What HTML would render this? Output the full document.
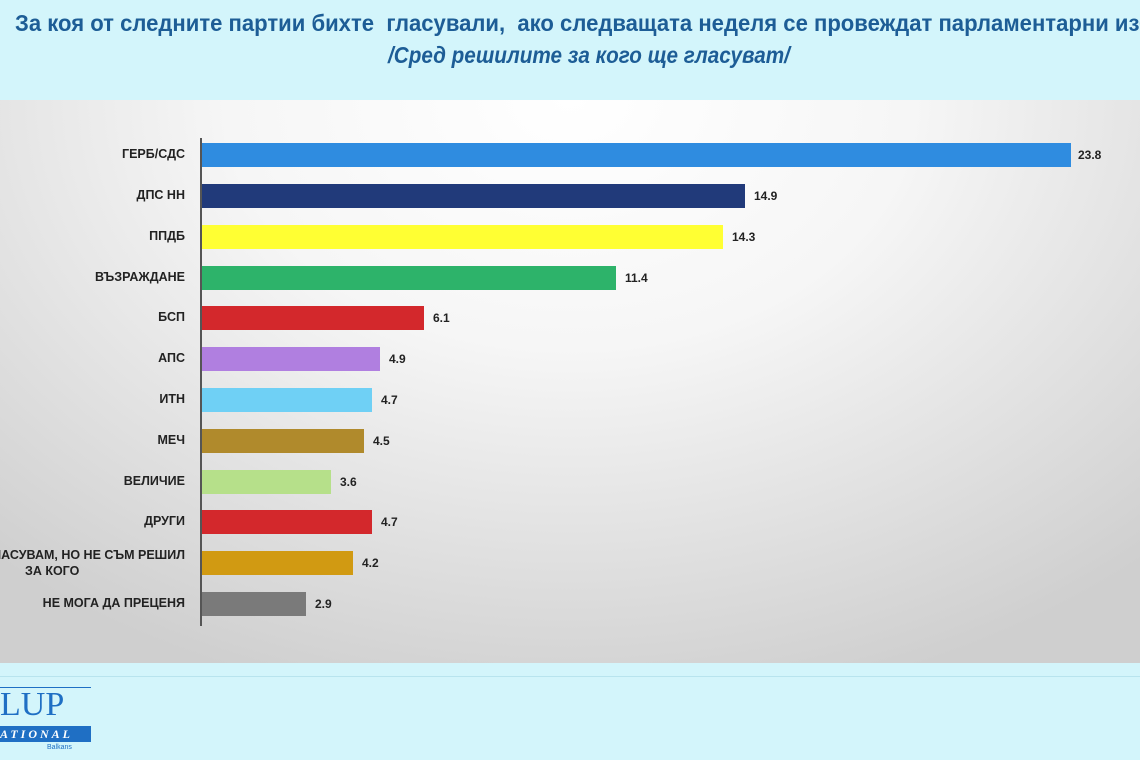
<!DOCTYPE html>
<html><head><meta charset="utf-8"><style>
body{margin:0;width:1140px;height:760px;overflow:hidden;background:#d3f5fb;position:relative;font-family:"Liberation Sans",sans-serif}
.t{position:absolute;color:#1d5d96;font-weight:bold;white-space:nowrap;transform-origin:0 0}
#chart{position:absolute;left:0;top:100px;width:1140px;height:563px;background:radial-gradient(ellipse 75% 110% at 50% 0%,#ffffff 0%,#f6f6f6 40%,#dcdcdc 80%,#cfcfcf 100%)}
.ax{position:absolute;left:200px;top:138px;width:2px;height:488px;background:#555}
.b{position:absolute;left:202px;height:24px}
.l{position:absolute;right:955px;font-size:12.5px;font-weight:bold;color:#222;text-align:right;white-space:nowrap;line-height:15px}
.v{position:absolute;font-size:12px;font-weight:bold;color:#222}
</style></head><body>
<div class="t" style="left:15px;top:10px;font-size:23px;transform:scaleX(0.96)">За коя от следните партии бихте &nbsp;гласували, &nbsp;ако следващата неделя се провеждат парламентарни избори</div>
<div class="t" style="left:388px;top:42px;font-size:23px;font-style:italic;transform:scaleX(0.9)">/Сред решилите за кого ще гласуват/</div>
<div id="chart"></div>
<div class="ax"></div>
<div style="position:absolute;left:0;top:676px;width:1140px;height:1px;background:#b8e4ee"></div>
<div style="position:absolute;left:0;top:688px;font-family:'Liberation Serif',serif;font-size:34px;color:#1f6fc4;line-height:34px">LUP</div>
<div style="position:absolute;left:0;top:726px;width:91px;height:16px;background:#1f6fc4;color:#fff;font-family:'Liberation Serif',serif;font-style:italic;font-weight:bold;font-size:12px;letter-spacing:3px;line-height:16px">ATIONAL</div>
<div style="position:absolute;left:0;top:687px;width:91px;height:1px;background:#1f6fc4"></div>
<div style="position:absolute;left:47px;top:744px;font-size:7px;color:#1f6fc4">Balkans</div>

<div class="b" style="top:143px;width:869px;background:#2f8ce0"></div><div class="l" style="top:147px">ГЕРБ/СДС</div><div class="v" style="left:1078px;top:148px">23.8</div>
<div class="b" style="top:184px;width:543px;background:#213a7a"></div><div class="l" style="top:188px">ДПС НН</div><div class="v" style="left:754px;top:189px">14.9</div>
<div class="b" style="top:225px;width:521px;background:#ffff33"></div><div class="l" style="top:229px">ППДБ</div><div class="v" style="left:732px;top:230px">14.3</div>
<div class="b" style="top:266px;width:414px;background:#2db36a"></div><div class="l" style="top:270px">ВЪЗРАЖДАНЕ</div><div class="v" style="left:625px;top:271px">11.4</div>
<div class="b" style="top:306px;width:222px;background:#d3282c"></div><div class="l" style="top:310px">БСП</div><div class="v" style="left:433px;top:311px">6.1</div>
<div class="b" style="top:347px;width:178px;background:#b07fe0"></div><div class="l" style="top:351px">АПС</div><div class="v" style="left:389px;top:352px">4.9</div>
<div class="b" style="top:388px;width:170px;background:#6fd0f5"></div><div class="l" style="top:392px">ИТН</div><div class="v" style="left:381px;top:393px">4.7</div>
<div class="b" style="top:429px;width:162px;background:#b08a2c"></div><div class="l" style="top:433px">МЕЧ</div><div class="v" style="left:373px;top:434px">4.5</div>
<div class="b" style="top:470px;width:129px;background:#b6e08a"></div><div class="l" style="top:474px">ВЕЛИЧИЕ</div><div class="v" style="left:340px;top:475px">3.6</div>
<div class="b" style="top:510px;width:170px;background:#d3282c"></div><div class="l" style="top:514px">ДРУГИ</div><div class="v" style="left:381px;top:515px">4.7</div>
<div class="b" style="top:551px;width:151px;background:#d19a12"></div><div class="l" style="top:548px">ГЛАСУВАМ, НО НЕ СЪМ РЕШИЛ</div><div style="position:absolute;left:25px;top:564px;font-size:12.5px;font-weight:bold;color:#222">ЗА КОГО</div><div class="v" style="left:362px;top:556px">4.2</div>
<div class="b" style="top:592px;width:104px;background:#7a7a7a"></div><div class="l" style="top:596px">НЕ МОГА ДА ПРЕЦЕНЯ</div><div class="v" style="left:315px;top:597px">2.9</div>
</body></html>
